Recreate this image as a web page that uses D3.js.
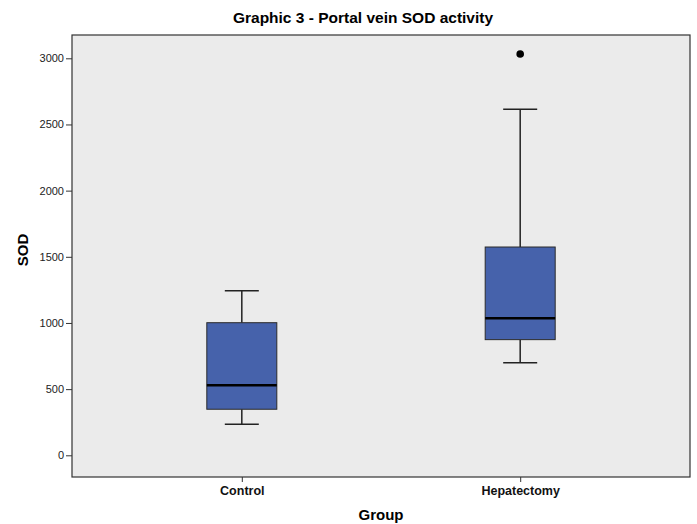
<!DOCTYPE html>
<html>
<head>
<meta charset="utf-8">
<script src="https://cdn.jsdelivr.net/npm/d3@7"></script>
<style>
  body { margin: 0; background: #fff; }
  text { font-family: "Liberation Sans", Arial, sans-serif; }
</style>
</head>
<body>
<div id="chart"></div>
<script>
const groups = ["Control", "Hepatectomy"];
const lowWhisker = [234, 700];
const q1 = [348, 874];
const median = [529, 1035];
const q3 = [1002, 1574];
const highWhisker = [1244, 2615];
const outliers = [[], [3033]];
const yTicks = [0, 500, 1000, 1500, 2000, 2500, 3000];

const width = 697, height = 524;
const plot = { left: 72, right: 690, top: 35, bottom: 477 };

const svg = d3.select('#chart').append('svg')
  .attr('width', width)
  .attr('height', height);

const y = d3.scaleLinear()
  .domain([0, 3000])
  .range([455.3, 58.3]);

const x = d3.scalePoint()
  .domain(groups)
  .range([plot.left, plot.right])
  .padding(0.61);

// plot background + frame
svg.append('rect')
  .attr('x', plot.left).attr('y', plot.top)
  .attr('width', plot.right - plot.left)
  .attr('height', plot.bottom - plot.top)
  .attr('fill', '#ebebeb')
  .attr('stroke', '#333')
  .attr('stroke-width', 1.2);

// y axis
const yAxis = svg.append('g')
  .attr('transform', `translate(${plot.left},0)`)
  .call(d3.axisLeft(y).tickValues(yTicks).tickSize(6).tickPadding(2).tickFormat(d3.format('d')));
yAxis.select('.domain').remove();
yAxis.selectAll('line').attr('stroke', '#333');
yAxis.selectAll('text').attr('fill', '#222').style('font-size', '11px');

// x axis
const xAxis = svg.append('g')
  .attr('transform', `translate(0,${plot.bottom})`)
  .call(d3.axisBottom(x).tickSize(5).tickPadding(4));
xAxis.select('.domain').remove();
xAxis.selectAll('line').attr('stroke', '#333');
xAxis.selectAll('text').attr('fill', '#111')
  .style('font-size', '12.5px').style('font-weight', 'bold');

const boxW = 70, capW = 34;

const box = svg.selectAll('.box')
  .data(groups)
  .enter()
  .append('g')
  .attr('class', 'box');

// whiskers
box.append('line')
  .attr('x1', d => x(d)).attr('x2', d => x(d))
  .attr('y1', (d, i) => y(highWhisker[i])).attr('y2', (d, i) => y(q3[i]))
  .attr('stroke', '#222').attr('stroke-width', 1.5);
box.append('line')
  .attr('x1', d => x(d)).attr('x2', d => x(d))
  .attr('y1', (d, i) => y(q1[i])).attr('y2', (d, i) => y(lowWhisker[i]))
  .attr('stroke', '#222').attr('stroke-width', 1.5);
box.append('line')
  .attr('x1', d => x(d) - capW / 2).attr('x2', d => x(d) + capW / 2)
  .attr('y1', (d, i) => y(highWhisker[i])).attr('y2', (d, i) => y(highWhisker[i]))
  .attr('stroke', '#222').attr('stroke-width', 1.5);
box.append('line')
  .attr('x1', d => x(d) - capW / 2).attr('x2', d => x(d) + capW / 2)
  .attr('y1', (d, i) => y(lowWhisker[i])).attr('y2', (d, i) => y(lowWhisker[i]))
  .attr('stroke', '#222').attr('stroke-width', 1.5);

// box
box.append('rect')
  .attr('x', d => x(d) - boxW / 2)
  .attr('width', boxW)
  .attr('y', (d, i) => y(q3[i]))
  .attr('height', (d, i) => y(q1[i]) - y(q3[i]))
  .attr('fill', '#4662ab')
  .attr('stroke', '#2a2a2a')
  .attr('stroke-width', 1);

// median
box.append('line')
  .attr('x1', d => x(d) - boxW / 2).attr('x2', d => x(d) + boxW / 2)
  .attr('y1', (d, i) => y(median[i])).attr('y2', (d, i) => y(median[i]))
  .attr('stroke', '#000').attr('stroke-width', 2.5);

// outliers
box.selectAll('circle')
  .data((d, i) => outliers[i].map(v => ({ g: d, v })))
  .enter()
  .append('circle')
  .attr('cx', o => x(o.g))
  .attr('cy', o => y(o.v))
  .attr('r', 3.8)
  .attr('fill', '#000');

// titles
svg.append('text')
  .attr('x', 363).attr('y', 23)
  .attr('text-anchor', 'middle')
  .style('font-size', '15.5px').style('font-weight', 'bold')
  .text('Graphic 3 - Portal vein SOD activity');

svg.append('text')
  .attr('x', 381).attr('y', 520)
  .attr('text-anchor', 'middle')
  .style('font-size', '15px').style('font-weight', 'bold')
  .text('Group');

svg.append('text')
  .attr('transform', 'translate(28,250) rotate(-90)')
  .attr('text-anchor', 'middle')
  .style('font-size', '15px').style('font-weight', 'bold')
  .text('SOD');
</script>
</body>
</html>
